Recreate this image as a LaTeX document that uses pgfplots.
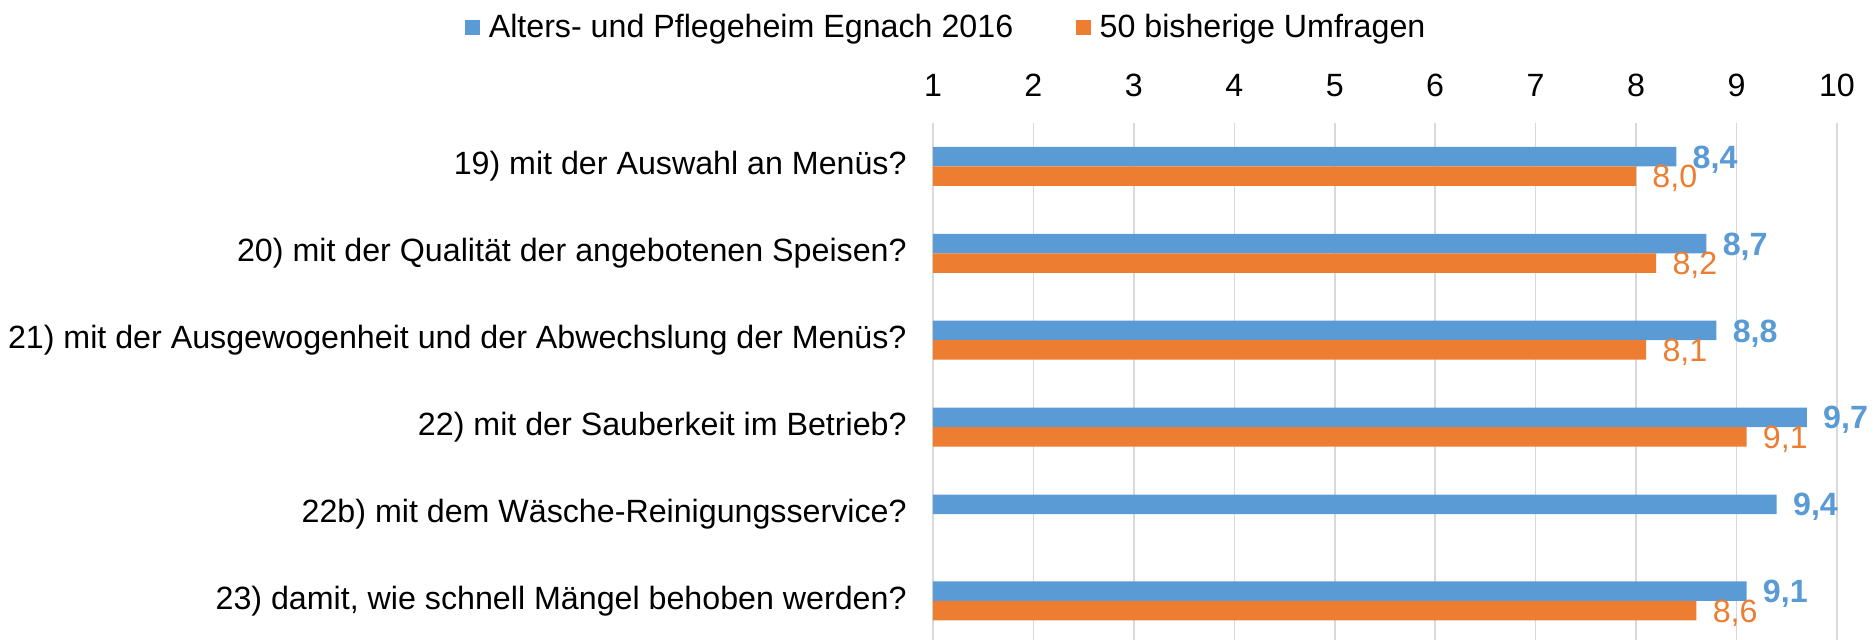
\documentclass[border=0pt]{standalone}
\usepackage{fontspec}
\setmainfont{Liberation Sans}
\usepackage{pgfplots}
\pgfplotsset{compat=1.18}

\definecolor{egblue}{HTML}{5B9BD5}
\definecolor{egorange}{HTML}{ED7D31}
\definecolor{gridgray}{HTML}{D9D9D9}

\newcommand{\chartfont}{\fontsize{16.1}{19}\selectfont}

\begin{document}
\begin{tikzpicture}
\begin{axis}[
    at={(0,0)}, anchor=south west,
    scale only axis,
    width=452pt, height=258.5pt,
    xbar, bar width=9.75pt,
    xmin=1, xmax=10,
    ymin=-0.5, ymax=5.45,
    y dir=reverse,
    clip mode=individual,
    axis line style={draw=none},
    xtick={1,...,10},
    xticklabel pos=upper,
    xmajorgrids,
    grid style={gridgray, line width=0.75pt},
    major tick length=0pt,
    ytick={0,...,5},
    yticklabels={
        {19) mit der Auswahl an Menüs?},
        {20) mit der Qualität der angebotenen Speisen?},
        {21) mit der Ausgewogenheit und der Abwechslung der Menüs?},
        {22) mit der Sauberkeit im Betrieb?},
        {22b) mit dem Wäsche-Reinigungsservice?},
        {23) damit, wie schnell Mängel behoben werden?}},
    yticklabel style={font=\chartfont, anchor=east, inner sep=0pt, xshift=-13pt},
    xticklabel style={font=\chartfont, anchor=south, inner sep=0pt, yshift=13pt},
    /pgf/number format/assume math mode=true,
    nodes near coords={\pgfmathprintnumber[fixed,fixed zerofill,precision=1,use comma]{\pgfplotspointmeta}},
    nodes near coords align={horizontal},
    legend columns=2,
    legend style={draw=none, fill=none, inner sep=0pt, anchor=west,
        at={(-0.5177,1.185)}, font=\chartfont,
        nodes={inner sep=0pt}, column sep=4.5pt},
    legend image code/.code={\fill[#1] (0pt,-3.6pt) rectangle (7.2pt,3.6pt);},
]
\addplot+[draw=none, fill=egblue, bar shift=4.875pt,
    every node near coord/.append style={font=\chartfont\bfseries, text=egblue, anchor=base west, inner sep=0pt, xshift=8pt, yshift=-5.8pt}]
    coordinates {(8.4,0) (8.7,1) (8.8,2) (9.7,3) (9.4,4) (9.1,5)};
\addlegendentry{Alters- und Pflegeheim Egnach 2016\hspace*{27pt}}
\addplot+[draw=none, fill=egorange, bar shift=-4.875pt,
    every node near coord/.append style={font=\chartfont, text=egorange, anchor=base west, inner sep=0pt, xshift=8pt, yshift=-5.8pt}]
    coordinates {(8.0,0) (8.2,1) (8.1,2) (9.1,3) (8.6,5)};
\addlegendentry{50 bisherige Umfragen}
\end{axis}
\pgfresetboundingbox
\path (-466.5pt,0pt) rectangle (471pt,320pt);
\end{tikzpicture}
\end{document}
